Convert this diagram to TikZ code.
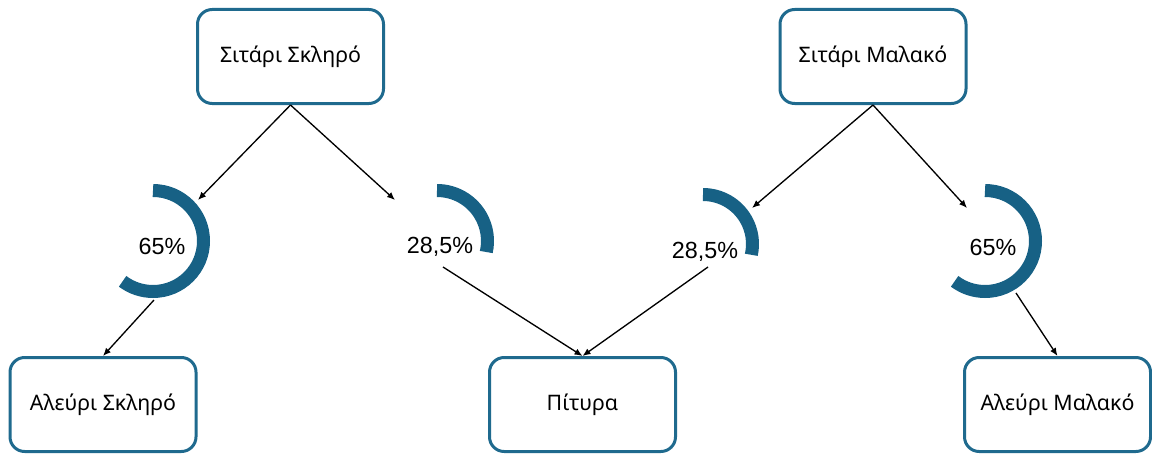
\documentclass[tikz,border=0pt]{standalone}
\usepackage{fontspec}
\setmainfont{Noto Sans}
\newfontfamily\pctfont{Liberation Sans}
\usetikzlibrary{arrows.meta}
\definecolor{boxblue}{HTML}{1F6A8E}
\definecolor{ringblue}{HTML}{176185}

\begin{document}
\begin{tikzpicture}[
  >={Latex[length=6pt,width=5pt]},
  x=0.75pt, y=0.75pt,
  box/.style={draw=boxblue, line width=2.25pt, rounded corners=11pt, fill=white,
    minimum width=139.5pt, minimum height=70.5pt, font=\fontsize{16}{19}\selectfont},
  ring/.style={draw=ringblue, line width=9.75pt},
  pct/.style={font=\pctfont\fontsize{17.5}{20}\selectfont, inner sep=0pt},
  conn/.style={->, line width=1pt},
]
\useasboundingbox (0,0) rectangle (1152,458);

% wheat on top, flour and bran below
\node[box] (hardwheat) at (290.5,401.5) {Σιτάρι Σκληρό};
\node[box] (softwheat) at (873,401.5) {Σιτάρι Μαλακό};
\node[box] (hardflour) at (103,53.5) {Αλεύρι Σκληρό};
\node[box] (bran) at (582.5,53.5) {Πίτυρα};
\node[box] (softflour) at (1057.5,53.5) {Αλεύρι Μαλακό};

\coordinate (r1) at (153,217);
\coordinate (r2) at (437,217);
\coordinate (r3) at (703,214);
\coordinate (r4) at (985,217);
\draw[ring] (r1) ++(90:50.5) arc[start angle=90, end angle=-127, radius=50.5];
\draw[ring] (r2) ++(90:50.5) arc[start angle=90, end angle=-12.6, radius=50.5];
\draw[ring] (r3) ++(90:49.5) arc[start angle=90, end angle=-12.6, radius=49.5];
\draw[ring] (r4) ++(90:50.5) arc[start angle=90, end angle=-127, radius=50.5];
\node[pct] (p1) at (162,212) {65\%};
\node[pct] (p2) at (440,211) {28,5\%};
\node[pct] (p3) at (705,206) {28,5\%};
\node[pct] (p4) at (993,211) {65\%};

\coordinate (t1) at (198,258);
\coordinate (t2) at (395,258);
\coordinate (t3) at (752,250);
\coordinate (t4) at (967,250);
\coordinate (s1) at (154,158);
\coordinate (s2) at (443,191);
\coordinate (s3) at (708,191);
\coordinate (s4) at (1016,165);

\draw[conn] (hardwheat.south) -- (t1);
\draw[conn] (hardwheat.south) -- (t2);
\draw[conn] (softwheat.south) -- (t3);
\draw[conn] (softwheat.south) -- (t4);
\draw[conn] (s1) -- (hardflour.north);
\draw[conn] (s2) -- (bran.north);
\draw[conn] (s3) -- (bran.north);
\draw[conn] (s4) -- (softflour.north);
\end{tikzpicture}
\end{document}
